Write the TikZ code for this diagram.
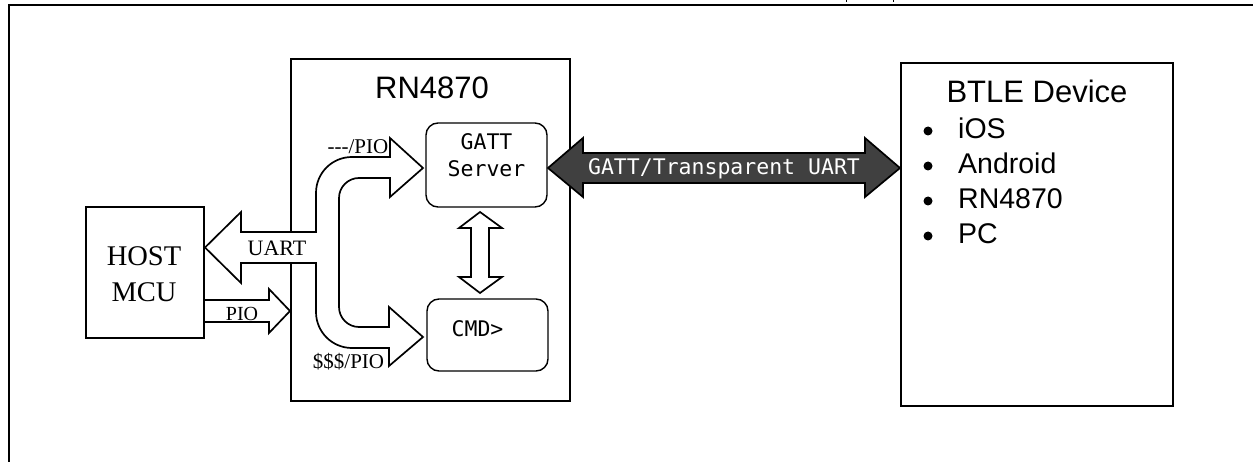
\documentclass[tikz,border=0pt]{standalone}
\usepackage{fontspec}
\newfontfamily\arialf{Liberation Sans}
\newfontfamily\serf{Liberation Serif}
\newfontfamily\monof{DejaVu Sans Mono}
\begin{document}
\begin{tikzpicture}[x=1pt,y=-1pt,line join=miter,
  box/.style={draw, line width=1.4pt, inner sep=0pt},
  rbox/.style={box, rounded corners=12pt},
  arr/.style={draw, line width=1.7pt, fill=white, line join=miter},
  darr/.style={draw, line width=1.7pt, fill=darkgray, line join=miter},
  sertxt/.style={anchor=base, inner sep=0pt, font=\serf\fontsize{21}{25}\selectfont},
  monotxt/.style={anchor=base, inner sep=0pt, font=\monof\fontsize{21.5}{26}\selectfont},
  ttltxt/.style={anchor=base, inner sep=0pt, font=\arialf\fontsize{31}{37}\selectfont},
  itemtxt/.style={anchor=base west, inner sep=0pt, font=\arialf\fontsize{28.5}{34}\selectfont},
  bul/.style={circle, fill=black, inner sep=0pt, minimum size=9pt}
]
\definecolor{darkgray}{HTML}{404040}
\useasboundingbox (0,0) rectangle (1253,462);
\fill[white] (0,0) rectangle (1253,462);
% frame
\draw[line width=2.4pt] (9,462) -- (9,5) -- (1253,5);
\draw[line width=1pt] (846,0) -- (846,2.5);
\draw[line width=1pt] (893,0) -- (893,2.5);

% boxes
\node[box, minimum width=118pt, minimum height=131pt] (host) at (145,272.5) {};
\node[box, minimum width=279pt, minimum height=342pt] (rn) at (430.5,230) {};
\node[rbox, minimum width=121pt, minimum height=84pt] (gatt) at (486.5,165) {};
\node[rbox, minimum width=121pt, minimum height=72pt] (cmd) at (487.5,335) {};
\node[box, minimum width=272pt, minimum height=343pt] (btle) at (1037,234.5) {};

% UART split arrow (from RN4870 to host, branching to GATT and CMD)
\draw[arr] (205,247.5) -- (241,212) -- (241,232) -- (316,232) -- (316,193)
  .. controls (316,173.1) and (331.9,157) .. (352,157)
  -- (390,157) -- (390,138) -- (423,168) -- (390,197) -- (390,178)
  -- (359,178) .. controls (348,178) and (339,187) .. (339,198)
  -- (339,307) .. controls (339,318) and (348,327) .. (359,327)
  -- (389,327) -- (389,307) -- (423,337) -- (389,366) -- (389,348)
  -- (352,348) .. controls (332.1,348) and (316,331.9) .. (316,312)
  -- (316,263) -- (241,263) -- (241,283) -- cycle;

% PIO arrow
\draw[arr] (204,300) -- (269,300) -- (269,289) -- (290,311) -- (269,333) -- (269,322) -- (204,322) -- cycle;

% vertical double arrow GATT <-> CMD
\draw[arr] (480,212) -- (502,228) -- (489,228) -- (489,277) -- (502,277) -- (480,293)
  -- (459,277) -- (471,277) -- (471,228) -- (459,228) -- cycle;

% GATT/Transparent UART double arrow
\draw[darr] (548,168) -- (583,138) -- (583,153) -- (865,153) -- (865,138) -- (900,168)
  -- (865,197) -- (865,183) -- (583,183) -- (583,197) -- cycle;

% texts
\node[ttltxt] (rnt) at (432,99) {RN4870};
\node[ttltxt] (btt) at (1037,103) {BTLE Device};
\node[anchor=base, inner sep=0pt, font=\serf\fontsize{28.5}{34}\selectfont] (h1) at (144,266) {HOST};
\node[anchor=base, inner sep=0pt, font=\serf\fontsize{28.5}{34}\selectfont] (h2) at (144,302) {MCU};
\node[sertxt, font=\serf\fontsize{22}{26}\selectfont] (uart) at (277,256) {UART};
\node[sertxt, font=\serf\fontsize{20}{24}\selectfont] (pio) at (242,321) {PIO};
\node[sertxt] (dpio) at (358,154) {-{}-{}-/PIO};
\node[sertxt] (spio) at (348.5,368) {\$\$\$/PIO};
\node[monotxt] (g1) at (486.5,150) {GATT};
\node[monotxt] (g2) at (486.5,177) {Server};
\node[monotxt] (cmdt) at (477.5,337) {CMD>};
\node[monotxt, text=white] (tr) at (724,175) {GATT/Transparent UART};

\node[bul] (b1) at (928,131) {};
\node[bul] (b2) at (928,166) {};
\node[bul] (b3) at (928,201) {};
\node[bul] (b4) at (928,236) {};
\node[itemtxt] (i1) at (958,139) {iOS};
\node[itemtxt] (i2) at (958,174) {Android};
\node[itemtxt] (i3) at (958,209) {RN4870};
\node[itemtxt] (i4) at (958,244) {PC};
\end{tikzpicture}
\end{document}
